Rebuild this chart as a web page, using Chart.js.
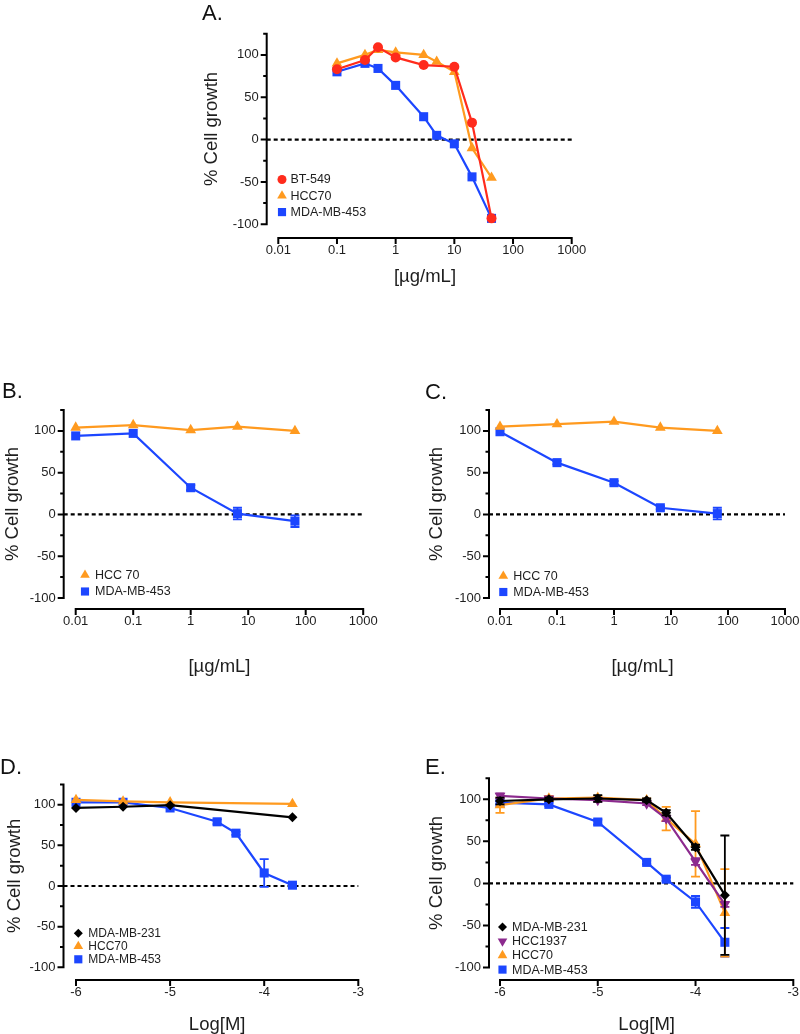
<!DOCTYPE html>
<html><head><meta charset="utf-8">
<script src="https://cdn.jsdelivr.net/npm/chart.js@4/dist/chart.umd.min.js"></script>
<style>
html,body{margin:0;padding:0;background:#fff;overflow:hidden;width:800px;height:1034px;}
#wrap{position:relative;width:800px;height:1034px;overflow:hidden;}
canvas{position:absolute;left:0;top:0;}
.lbl{position:absolute;font-family:'Liberation Sans',Arial,Helvetica,sans-serif;font-size:22px;line-height:22px;color:#111;}
</style></head><body>
<div id="wrap">
<canvas id="cA" width="800" height="1040"></canvas>
<canvas id="cB" width="800" height="1040"></canvas>
<canvas id="cC" width="800" height="1040"></canvas>
<canvas id="cD" width="800" height="1040"></canvas>
<canvas id="cE" width="800" height="1040"></canvas>
<div class="lbl" style="left:202px;top:2px">A.</div>
<div class="lbl" style="left:2px;top:380px">B.</div>
<div class="lbl" style="left:425px;top:381px">C.</div>
<div class="lbl" style="left:0px;top:756px">D.</div>
<div class="lbl" style="left:425px;top:756px">E.</div>
</div>
<script>
// ---------------- DATA ----------------
const yTickValues = [-100, -75, -50, -25, 0, 25, 50, 75, 100, 125];
const xTicksConc = [0.01, 0.1, 1, 10, 100, 1000];
const xTicksLogM = [-6, -5, -4, -3];

// Panel A
const aConc = [0.1, 0.3, 0.5, 1, 3, 5, 10, 20, 43];
const aBT549 = [83, 94, 109, 97, 88, null, 86, 20, -93];
const aHCC70 = [90, 100, 106, 103, 100, 92, 80, -10, -45];
const aMDA453 = [80, 90, 84, 64, 27, 5, -5, -44, -93];

// Panel B
const bConc = [0.01, 0.1, 1, 6.5, 65];
const bHCC70 = [104, 107, 101, 105, 100];
const bMDA453 = [94, 97, 32, 1, -8];
const bMDA453Err = [0, 0, 3, 7, 7];

// Panel C
const cConc = [0.01, 0.1, 1, 6.5, 65];
const cHCC70 = [105, 108, 111, 104, 100];
const cMDA453 = [99, 62, 38, 8, 1];
const cMDA453Err = [0, 2, 2, 2, 7];

// Panel D
const dLogM = [-6, -5.5, -5, -4.5, -4.3, -4, -3.7];
const dMDA231 = [96, 97.5, 99.5, null, null, null, 84.5];
const dHCC70 = [106, 104, 103, null, null, null, 101];
const dMDA453 = [103, 103, 96, 79, 65, 16, 1];
const dMDA453Err = [0, 0, 0, 3, 2, 17, 2];

// Panel E
const eLogM = [-6, -5.5, -5, -4.5, -4.3, -4, -3.7];
const eMDA231 = [98, 100, 101, 99, 84, 43, -14];
const eMDA231Err = [4, 2, 4, 2, 3, 3, 71];
const eHCC1937 = [104, 101, 99, 95, 77, 26, -25];
const eHCC1937Err = [3, 2, 2, 2, 3, 4, 3];
const eHCC70 = [93, 101, 102, 99, 77, 47, -35];
const eHCC70Err = [9, 3, 2, 2, 14, 39, 52];
const eMDA453 = [96, 94, 73, 25, 5, -22, -70];
const eMDA453Err = [2, 2, 3, 2, 2, 7, 17];

// ---------------- STYLE ----------------
const FONT = "'Liberation Sans', Arial, Helvetica, sans-serif";
Chart.defaults.font.family = FONT;
const RED = '#ff2b1c', ORANGE = '#ff9a1f', BLUE = '#1c46ff', BLACK = '#000000', PURPLE = '#8c2a8e';
const TXT = '#1e1e1e';

const STY = {
  circle: {pointStyle: 'circle', r: 5, rot: 0},
  tri: {pointStyle: 'triangle', r: 6.2, rot: 0},
  triDown: {pointStyle: 'triangle', r: 6.2, rot: 180},
  square: {pointStyle: 'rect', r: 6.4, rot: 0},
  diamond: {pointStyle: 'rectRot', r: 5, rot: 0}
};

function series(label, xs, ys, errs, color, sty) {
  const pts = [];
  xs.forEach((x, i) => {
    if (ys[i] === null || ys[i] === undefined) return;
    pts.push({x: x, y: ys[i], e: errs ? errs[i] : 0});
  });
  const s = STY[sty];
  return {
    label: label, data: pts,
    borderColor: color, backgroundColor: color,
    borderWidth: 2.2, tension: 0, clip: false,
    pointStyle: s.pointStyle, pointRadius: s.r, pointHoverRadius: s.r,
    pointRotation: s.rot, pointBackgroundColor: color, pointBorderColor: color,
    pointBorderWidth: 0
  };
}

function fallbackPoint(ctx, style, r, rot, x, y) {
  ctx.beginPath();
  if (style === 'circle') ctx.arc(x, y, r, 0, Math.PI * 2);
  else if (style === 'rect') { const s = r * Math.SQRT1_2; ctx.rect(x - s, y - s, 2 * s, 2 * s); }
  else if (style === 'rectRot') { ctx.moveTo(x - r, y); ctx.lineTo(x, y - r); ctx.lineTo(x + r, y); ctx.lineTo(x, y + r); ctx.closePath(); }
  else if (style === 'triangle') {
    let a = rot * Math.PI / 180;
    ctx.moveTo(x + Math.sin(a) * r, y - Math.cos(a) * r);
    a += 2 * Math.PI / 3; ctx.lineTo(x + Math.sin(a) * r, y - Math.cos(a) * r);
    a += 2 * Math.PI / 3; ctx.lineTo(x + Math.sin(a) * r, y - Math.cos(a) * r);
    ctx.closePath();
  }
  ctx.fill();
}

const prismPlugin = {
  id: 'prism',
  beforeDatasetsDraw(chart) {
    const o = chart.options.plugins.prism; const ctx = chart.ctx;
    const ya = chart.scales.y, xa = chart.scales.x;
    ctx.save();
    ctx.strokeStyle = '#000'; ctx.lineWidth = 2; ctx.lineCap = 'butt';
    // y axis
    const yTop = ya.getPixelForValue(125), yBot = ya.getPixelForValue(-100);
    ctx.beginPath();
    ctx.moveTo(o.yAxisX, yTop - 1); ctx.lineTo(o.yAxisX, yBot + 1);
    ya.ticks.forEach(t => {
      const py = ya.getPixelForValue(t.value);
      const len = (t.value % 50 === 0) ? 6 : 3.5;
      ctx.moveTo(o.yAxisX, py); ctx.lineTo(o.yAxisX - len, py);
    });
    // x axis
    const xt = xa.ticks;
    const xl = xa.getPixelForValue(xt[0].value), xr = xa.getPixelForValue(xt[xt.length - 1].value);
    ctx.moveTo(xl - 1, o.xAxisY); ctx.lineTo(xr + 1, o.xAxisY);
    xt.forEach(t => {
      const px = xa.getPixelForValue(t.value);
      ctx.moveTo(px, o.xAxisY); ctx.lineTo(px, o.xAxisY + 6);
    });
    ctx.stroke();
    // dashed zero line
    const y0 = ya.getPixelForValue(0);
    ctx.beginPath();
    ctx.setLineDash([4, 3]); ctx.lineWidth = 2.2;
    ctx.moveTo(o.yAxisX, y0); ctx.lineTo(xr, y0);
    ctx.stroke();
    ctx.restore();
  },
  beforeDatasetDraw(chart, args) {
    const ds = chart.data.datasets[args.index];
    const meta = args.meta; const ya = chart.scales.y; const ctx = chart.ctx;
    ctx.save();
    ctx.strokeStyle = ds.borderColor; ctx.lineWidth = 1.8;
    ds.data.forEach((p, i) => {
      if (!p.e) return;
      const el = meta.data[i]; if (!el) return;
      const yt = ya.getPixelForValue(p.y + p.e), yb = ya.getPixelForValue(p.y - p.e);
      ctx.beginPath();
      ctx.moveTo(el.x, yt); ctx.lineTo(el.x, yb);
      ctx.moveTo(el.x - 4.5, yt); ctx.lineTo(el.x + 4.5, yt);
      ctx.moveTo(el.x - 4.5, yb); ctx.lineTo(el.x + 4.5, yb);
      ctx.stroke();
    });
    ctx.restore();
  },
  afterDraw(chart) {
    const L = chart.options.plugins.prism.legend; const ctx = chart.ctx;
    ctx.save();
    ctx.font = L.font + 'px ' + FONT;
    ctx.textBaseline = 'middle'; ctx.textAlign = 'left';
    chart.data.datasets.forEach((ds, i) => {
      const y = L.y + i * L.dy;
      ctx.fillStyle = ds.pointBackgroundColor; ctx.strokeStyle = ds.pointBorderColor;
      const r = ds.pointRadius * 0.9;
      if (Chart.helpers && Chart.helpers.drawPoint) {
        Chart.helpers.drawPoint(ctx, {pointStyle: ds.pointStyle, radius: r, rotation: ds.pointRotation, borderWidth: 0}, L.x, y);
      } else {
        fallbackPoint(ctx, ds.pointStyle, r, ds.pointRotation, L.x, y);
      }
      ctx.fillStyle = TXT;
      ctx.fillText(ds.label, L.tx, y + 0.5);
    });
    ctx.restore();
  }
};

function makeChart(id, cfg) {
  const A = cfg.area;
  const TF = 18.5, TLH = TF * 1.2;
  const TICKF = 13, TICKLH = TICKF * 1.2;
  const Wy = A.left - (cfg.yTitleX - TLH / 2);
  const Hx = (cfg.xTitleY + TLH / 2) - A.bottom;
  const canvasH = 1040;
  const zeroPad = s => { s.paddingLeft = 0; s.paddingRight = 0; s.paddingTop = 0; s.paddingBottom = 0; };
  return new Chart(document.getElementById(id), {
    type: 'line',
    data: {datasets: cfg.datasets},
    options: {
      responsive: false, animation: false, events: [],
      layout: {padding: {left: cfg.yTitleX - TLH / 2, top: A.top, right: 800 - A.right, bottom: canvasH - A.bottom - Hx}},
      plugins: {
        legend: {display: false}, tooltip: {enabled: false},
        prism: {yAxisX: cfg.yAxisX, xAxisY: cfg.xAxisY, legend: cfg.legend}
      },
      scales: {
        x: {
          type: cfg.xType, min: cfg.xTicks[0], max: cfg.xTicks[cfg.xTicks.length - 1],
          afterBuildTicks: s => { s.ticks = cfg.xTicks.map(v => ({value: v})); },
          afterFit: s => { s.height = Hx; zeroPad(s); },
          grid: {display: false, drawTicks: false}, border: {display: false},
          ticks: {
            autoSkip: false, maxRotation: 0, minRotation: 0,
            padding: (cfg.xAxisY - A.bottom) + 12.5 - TICKLH / 2,
            font: {size: TICKF}, color: TXT,
            callback: v => String(v)
          },
          title: {display: true, text: cfg.xTitle, font: {size: TF}, color: TXT, padding: 0}
        },
        y: {
          type: 'linear', min: -100, max: 125,
          afterBuildTicks: s => { s.ticks = yTickValues.map(v => ({value: v})); },
          afterFit: s => { s.width = Wy; zeroPad(s); },
          grid: {display: false, drawTicks: false}, border: {display: false},
          ticks: {
            autoSkip: false, padding: (A.left - cfg.yAxisX) + 8,
            font: {size: TICKF}, color: TXT,
            callback: v => (v % 50 === 0 ? String(v) : '')
          },
          title: {display: true, text: '% Cell growth', font: {size: TF}, color: TXT, padding: 0}
        }
      }
    },
    plugins: [prismPlugin]
  });
}

const CONC_TITLE = '[\u00b5g/mL]';

makeChart('cA', {
  area: {left: 278.3, right: 571.7, top: 33.7, bottom: 224.3},
  yAxisX: 266.7, xAxisY: 238, yTitleX: 211.7, xTitleY: 277,
  xType: 'logarithmic', xTicks: xTicksConc, xTitle: CONC_TITLE,
  legend: {x: 282, y: 179.5, dy: 16.3, tx: 290.5, font: 12.5},
  datasets: [
    series('BT-549', aConc, aBT549, null, RED, 'circle'),
    series('HCC70', aConc, aHCC70, null, ORANGE, 'tri'),
    series('MDA-MB-453', aConc, aMDA453, null, BLUE, 'square')
  ]
});

makeChart('cB', {
  area: {left: 75.7, right: 363.2, top: 410, bottom: 598},
  yAxisX: 63.7, xAxisY: 609, yTitleX: 13.3, xTitleY: 667,
  xType: 'logarithmic', xTicks: xTicksConc, xTitle: CONC_TITLE,
  legend: {x: 85, y: 575, dy: 16.5, tx: 95, font: 12.5},
  datasets: [
    series('HCC 70', bConc, bHCC70, null, ORANGE, 'tri'),
    series('MDA-MB-453', bConc, bMDA453, bMDA453Err, BLUE, 'square')
  ]
});

makeChart('cC', {
  area: {left: 500, right: 785, top: 410, bottom: 598},
  yAxisX: 489, xAxisY: 609, yTitleX: 436.7, xTitleY: 667,
  xType: 'logarithmic', xTicks: xTicksConc, xTitle: CONC_TITLE,
  legend: {x: 503.3, y: 576, dy: 16, tx: 513.3, font: 12.5},
  datasets: [
    series('HCC 70', cConc, cHCC70, null, ORANGE, 'tri'),
    series('MDA-MB-453', cConc, cMDA453, cMDA453Err, BLUE, 'square')
  ]
});

makeChart('cD', {
  area: {left: 76, right: 358.3, top: 784.4, bottom: 967.3},
  yAxisX: 63.5, xAxisY: 980, yTitleX: 15, xTitleY: 1025,
  xType: 'linear', xTicks: xTicksLogM, xTitle: 'Log[M]',
  legend: {x: 78.3, y: 933.3, dy: 13, tx: 88.3, font: 12},
  datasets: [
    series('MDA-MB-231', dLogM, dMDA231, null, BLACK, 'diamond'),
    series('HCC70', dLogM, dHCC70, null, ORANGE, 'tri'),
    series('MDA-MB-453', dLogM, dMDA453, dMDA453Err, BLUE, 'square')
  ]
});

makeChart('cE', {
  area: {left: 500, right: 793.3, top: 778.3, bottom: 967.5},
  yAxisX: 489, xAxisY: 980, yTitleX: 436.7, xTitleY: 1025,
  xType: 'linear', xTicks: xTicksLogM, xTitle: 'Log[M]',
  legend: {x: 502.5, y: 927, dy: 14.2, tx: 512, font: 12.5},
  datasets: [
    series('MDA-MB-231', eLogM, eMDA231, eMDA231Err, BLACK, 'diamond'),
    series('HCC1937', eLogM, eHCC1937, eHCC1937Err, PURPLE, 'triDown'),
    series('HCC70', eLogM, eHCC70, eHCC70Err, ORANGE, 'tri'),
    series('MDA-MB-453', eLogM, eMDA453, eMDA453Err, BLUE, 'square')
  ]
});
</script>
</body></html>
